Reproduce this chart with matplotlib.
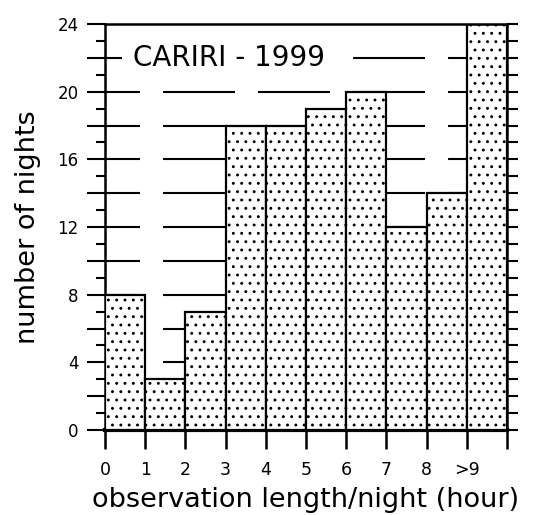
import numpy as np
import matplotlib as mpl
mpl.use('agg')
import matplotlib.pyplot as plt
from matplotlib.ticker import MultipleLocator, FuncFormatter

mpl.rcParams['lines.scale_dashes'] = False
mpl.rcParams['hatch.linewidth'] = 0.9

# observation length per night (hour bins) and number of nights
hour_edges = np.arange(0, 11)
nights = [8, 3, 7, 18, 18, 19, 20, 12, 14, 24]
xtick_labels = ['0', '1', '2', '3', '4', '5', '6', '7', '8', '>9', '']

fig = plt.figure(figsize=(5.34, 5.15), dpi=100)
ax = fig.add_axes([0.1966, 0.165, 0.7528, 0.7883])

ax.bar(hour_edges[:-1], nights, width=1, align='edge', facecolor='white',
       edgecolor='black', hatch='..', linewidth=1.6, zorder=3)

ax.set_xlim(0, 10)
ax.set_ylim(0, 24)

# dashed horizontal guide lines every 2 nights
for y in range(2, 24, 2):
    ax.axhline(y, color='black', lw=1.5, ls=(26.6, (51.8, 16.6)), zorder=1)

ax.yaxis.set_major_locator(MultipleLocator(2))
ax.yaxis.set_minor_locator(MultipleLocator(1))
ax.yaxis.set_major_formatter(FuncFormatter(lambda v, p: '%d' % v if v % 4 == 0 else ''))
ax.tick_params(axis='y', which='major', direction='out', length=13, width=1.5,
               labelsize=12, pad=6)
ax.tick_params(axis='y', which='minor', direction='out', length=6.5, width=1.5)

ax.set_xticks(hour_edges)
ax.set_xticklabels(xtick_labels)
ax.tick_params(axis='x', direction='out', length=14, width=1.8, labelsize=12.5, pad=8)

for s in ['left', 'top', 'right']:
    ax.spines[s].set_linewidth(1.8)
ax.spines['bottom'].set_linewidth(3)
ax.spines['top'].set_zorder(5)

# right side ticks every night
ax2 = ax.twinx()
ax2.set_ylim(0, 24)
ax2.yaxis.set_major_locator(MultipleLocator(1))
ax2.tick_params(axis='y', direction='out', length=8, width=1.5, labelright=False)
for s in ax2.spines.values():
    s.set_visible(False)

ax.text(0.7, 22, 'CARIRI - 1999', fontsize=20, va='center', ha='left',
        bbox=dict(facecolor='white', edgecolor='none', pad=8), zorder=4)

ax.set_ylabel('number of nights', fontsize=19.5, labelpad=12)
ax.set_xlabel('observation length/night (hour)', fontsize=19.5, labelpad=6)

plt.savefig('out.png', dpi=100)
